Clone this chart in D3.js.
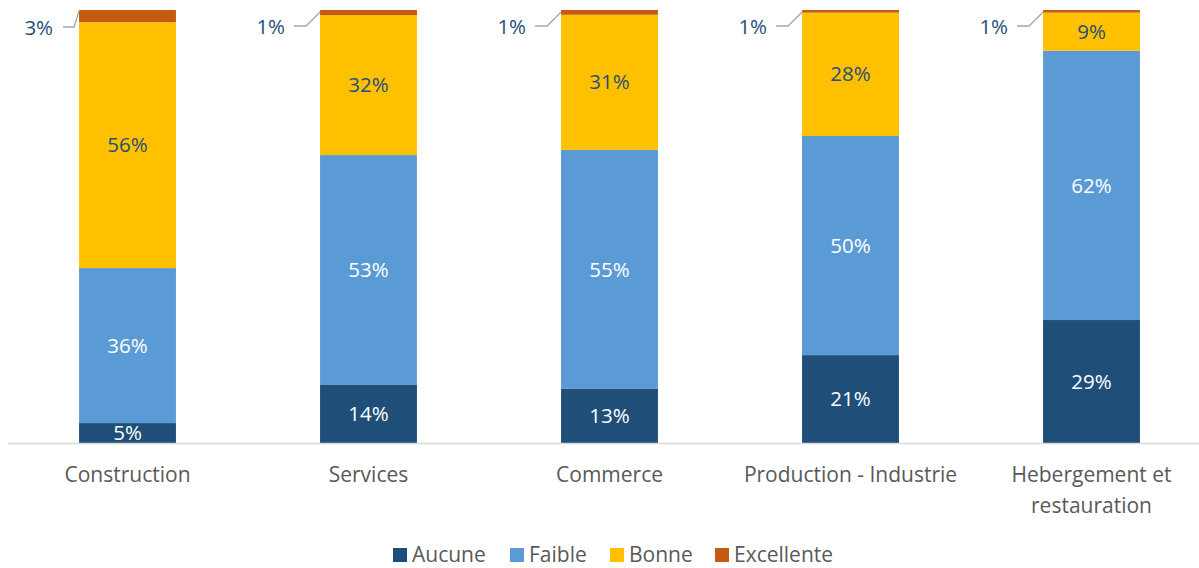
<!DOCTYPE html>
<html lang="fr">
<head>
<meta charset="utf-8">
<script src="https://d3js.org/d3.v7.min.js"></script>
<style>
  body { margin: 0; background: #fff; }
  text { font-family: "Open Sans", Lato, sans-serif; }
</style>
</head>
<body>
<script>
// categories and series (percent of each sector)
var sectors = ["Construction", "Services", "Commerce", "Production - Industrie", "Hebergement et restauration"];
var levels = ["Aucune", "Faible", "Bonne", "Excellente"];
var aucune     = [4.6, 13.4, 12.5, 20.3, 28.4];
var faible     = [35.8, 53.1, 55.2, 50.6, 62.2];
var bonne      = [56.8, 32.3, 31.2, 28.5, 8.8];
var excellente = [2.8, 1.2, 1.1, 0.6, 0.6];
var labels = {
  Aucune: ["5%", "14%", "13%", "21%", "29%"],
  Faible: ["36%", "53%", "55%", "50%", "62%"],
  Bonne: ["56%", "32%", "31%", "28%", "9%"],
  Excellente: ["3%", "1%", "1%", "1%", "1%"]
};
var colors = ["#1f4e79", "#5b9bd5", "#ffc000", "#c55a11"];
var labelColors = ["#ffffff", "#ffffff", "#264f7a", "#264f7a"];

var w = 1199, h = 568;
var baseY = 443, topY = 10;

var table = sectors.map(function(s, i) {
  return {sector: s, i: i, Aucune: aucune[i], Faible: faible[i], Bonne: bonne[i], Excellente: excellente[i]};
});
var series = d3.stack().keys(levels)(table);

var svg = d3.select("body").append("svg")
    .attr("width", w)
    .attr("height", h);

var x = d3.scaleBand()
    .domain(sectors)
    .range([7, 1212])
    .paddingInner(0.598)
    .paddingOuter(0.299);

var y = d3.scaleLinear()
    .domain([0, 100])
    .range([baseY, topY]);

// bars
var groups = svg.selectAll("g.layer")
    .data(series)
    .join("g")
    .attr("class", "layer")
    .attr("fill", (d, i) => colors[i]);

groups.selectAll("rect")
    .data(d => d)
    .join("rect")
    .attr("x", d => x(d.data.sector))
    .attr("y", d => y(d[1]))
    .attr("width", x.bandwidth())
    .attr("height", d => y(d[0]) - y(d[1]));

// labels inside segments (first three series)
series.slice(0, 3).forEach(function(s, k) {
  svg.selectAll(".lab" + k)
    .data(s)
    .join("text")
    .attr("class", "lab" + k)
    .attr("x", d => x(d.data.sector) + x.bandwidth() / 2)
    .attr("y", d => (y(d[0]) + y(d[1])) / 2)
    .attr("dy", "0.35em")
    .attr("text-anchor", "middle")
    .attr("fill", labelColors[k])
    .style("font-size", "20.5px")
    .text((d, i) => labels[s.key][i]);
});

// "Excellente" labels outside with leader lines
var exc = series[3];
function thin(d) { return y(d[0]) - y(d[1]) < 8; }

svg.selectAll(".leader")
  .data(exc)
  .join("polyline")
  .attr("class", "leader")
  .attr("fill", "none")
  .attr("stroke", "#a6a6a6")
  .attr("stroke-width", 1.3)
  .attr("points", function(d) {
    var x0 = x(d.data.sector), y0 = y(d[1]);
    if (thin(d)) return [[x0 - 26, y0 + 16], [x0 - 14, y0 + 16], [x0, y0 + 2]].join(" ");
    return [[x0 - 16, y0 + 17], [x0 - 5, y0 + 17], [x0, y0 + 1]].join(" ");
  });

svg.selectAll(".exclab")
  .data(exc)
  .join("text")
  .attr("class", "exclab")
  .attr("x", d => x(d.data.sector) - (thin(d) ? 35 : 26))
  .attr("y", d => y(d[1]) + (thin(d) ? 17 : 18))
  .attr("dy", "0.35em")
  .attr("text-anchor", "end")
  .attr("fill", "#264f7a")
  .style("font-size", "20.5px")
  .text((d, i) => labels.Excellente[i]);

// axis line
svg.append("line")
  .attr("x1", 8).attr("x2", w)
  .attr("y1", baseY + 0.5).attr("y2", baseY + 0.5)
  .attr("stroke", "#d9d9d9")
  .attr("stroke-width", 1.5);

// category labels
var catLines = {
  "Hebergement et restauration": ["Hebergement et", "restauration"]
};
sectors.forEach(function(s) {
  var lines = catLines[s] || [s];
  var t = svg.append("text")
    .attr("x", x(s) + x.bandwidth() / 2)
    .attr("y", 482)
    .attr("text-anchor", "middle")
    .attr("fill", "#595959")
    .style("font-size", "21px");
  lines.forEach(function(l, j) {
    t.append("tspan")
      .attr("x", x(s) + x.bandwidth() / 2)
      .attr("dy", j === 0 ? 0 : 31)
      .text(l);
  });
});

// legend
var legendX = [393, 510, 610, 715];
var legend = svg.selectAll(".legend")
  .data(levels)
  .join("g")
  .attr("class", "legend")
  .attr("transform", (d, i) => "translate(" + legendX[i] + ",548)");
legend.append("rect")
  .attr("width", 14).attr("height", 14)
  .attr("fill", (d, i) => colors[i]);
legend.append("text")
  .attr("x", 19)
  .attr("y", 14)
  .attr("fill", "#595959")
  .style("font-size", "21px")
  .text(d => d);
</script>
</body>
</html>
